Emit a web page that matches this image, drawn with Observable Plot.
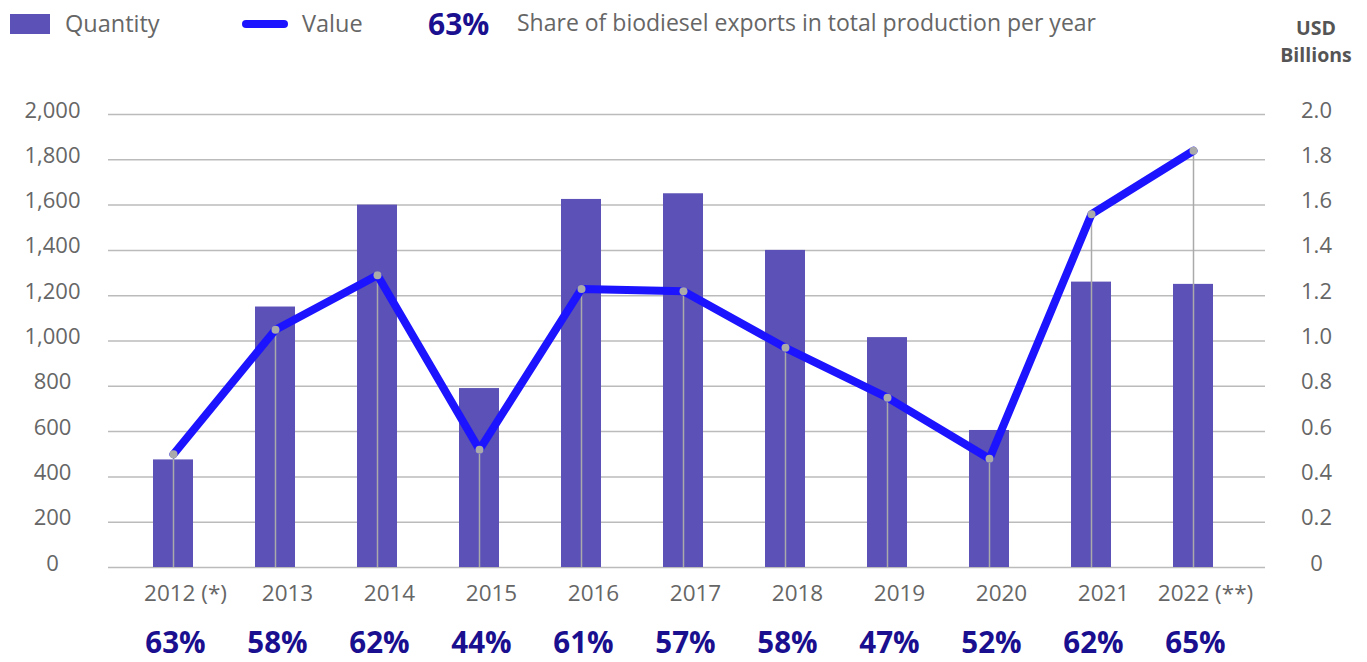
<!DOCTYPE html>
<html>
<head>
<meta charset="utf-8">
<script src="https://cdn.jsdelivr.net/npm/d3@7"></script>
<script src="https://cdn.jsdelivr.net/npm/@observablehq/plot@0.6"></script>
<style>
  html, body { margin: 0; padding: 0; background: #fff; }
  body { width: 1367px; height: 662px; position: relative; overflow: hidden; font-family: "Open Sans", sans-serif; }
  #legend { position: absolute; left: 0; top: 0; width: 1367px; height: 60px; }
  .lg { position: absolute; color: #666; font-size: 23.5px; line-height: 28px; white-space: nowrap; }
  #chart { position: absolute; left: 0; top: 0; }
</style>
</head>
<body>
<div id="chart"></div>
<div id="legend">
  <div style="position:absolute;left:10px;top:14px;width:40px;height:20px;background:#5b51b6"></div>
  <div class="lg" style="left:65px;top:9px">Quantity</div>
  <div style="position:absolute;left:242px;top:20px;width:46px;height:8px;border-radius:4px;background:#1d14ff"></div>
  <div class="lg" style="left:302px;top:9px">Value</div>
  <div class="lg" style="left:428px;top:7px;font-size:30px;line-height:34px;font-weight:700;color:#1a0f8f">63%</div>
  <div class="lg" style="left:517px;top:8px;font-size:23px">Share of biodiesel exports in total production per year</div>
  <div class="lg" style="left:1266px;top:14px;width:100px;text-align:center;font-size:19.5px;font-weight:700;color:#555;line-height:27px">USD<br>Billions</div>
</div>
<script>
const years = ["2012 (*)", "2013", "2014", "2015", "2016", "2017", "2018", "2019", "2020", "2021", "2022 (**)"];
const quantity = [475, 1150, 1600, 790, 1625, 1650, 1400, 1015, 605, 1260, 1250];
const valueUSDbn = [0.50, 1.05, 1.29, 0.52, 1.23, 1.22, 0.97, 0.75, 0.48, 1.56, 1.84];
const shares = ["63%", "58%", "62%", "44%", "61%", "57%", "58%", "47%", "52%", "62%", "65%"];
const leftTicks = [0, 200, 400, 600, 800, 1000, 1200, 1400, 1600, 1800, 2000];

const data = years.map((y, i) => ({year: y, q: quantity[i], v: valueUSDbn[i], share: shares[i]}));

const chart = Plot.plot({
  width: 1367,
  height: 662,
  marginTop: 114,
  marginBottom: 95,
  marginLeft: 108,
  marginRight: 102,
  style: {fontFamily: "'Open Sans', sans-serif", background: "transparent"},
  x: {type: "band", domain: years, range: [119, 1246.25], paddingInner: 0.61, paddingOuter: 0.305},
  y: {domain: [0, 2000]},
  marks: [
    Plot.gridY(leftTicks, {stroke: "#bbb", strokeOpacity: 1, strokeWidth: 1.5}),
    Plot.axisY(leftTicks, {anchor: "left", tickSize: 0, tickPadding: 56, textAnchor: "middle", tickFormat: d3.format(","), fontSize: 22, fill: "#666", dy: -4, label: null}),
    Plot.axisY(leftTicks, {anchor: "right", tickSize: 0, tickPadding: 51, textAnchor: "middle", tickFormat: d => d === 0 ? "0" : (d / 1000).toFixed(1), fontSize: 22, fill: "#666", dy: -4, label: null}),
    Plot.axisX(years, {anchor: "bottom", tickSize: 0, tickPadding: 18, dx: 12, fontSize: 22.5, fill: "#666", label: null}),
    Plot.barY(data, {x: "year", y: "q", fill: "#5b51b6"}),
    Plot.ruleX(data, {x: "year", y1: 0, y2: d => d.v * 1000, stroke: "#aaa", strokeWidth: 1.5}),
    Plot.line(data, {x: "year", y: d => d.v * 1000, stroke: "#1d14ff", strokeWidth: 8, strokeLinejoin: "round", strokeLinecap: "round"}),
    Plot.dot(data, {x: "year", y: d => d.v * 1000, r: 4, fill: "#aaa", stroke: "none"}),
    Plot.text(data, {x: "year", text: "share", frameAnchor: "bottom", dx: 2, dy: 85, fontSize: 29.5, fontWeight: 700, fill: "#1a0f8f"})
  ]
});
document.getElementById("chart").appendChild(chart);
</script>
</body>
</html>
